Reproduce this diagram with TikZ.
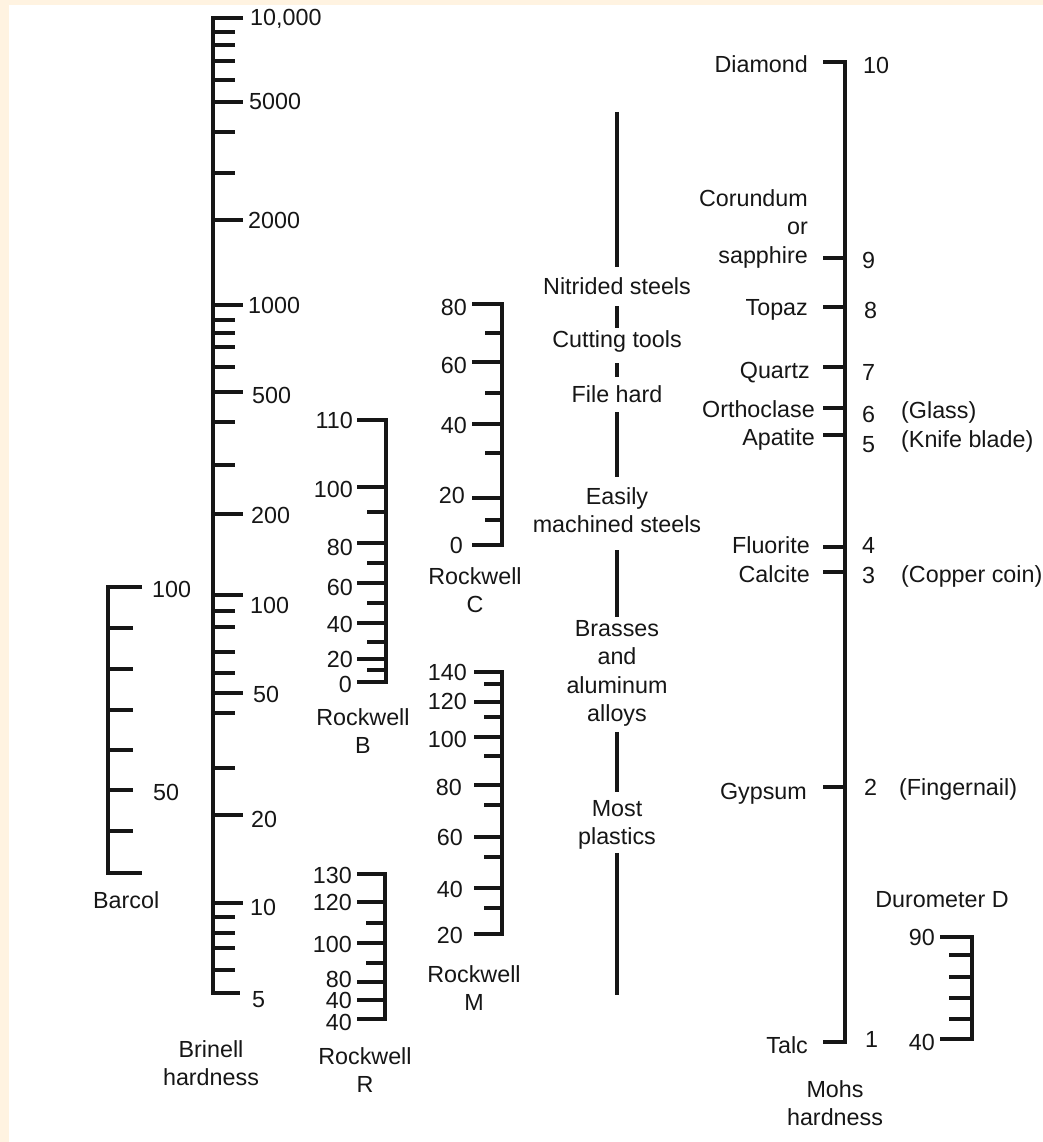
\documentclass[tikz,border=0pt]{standalone}
\usepackage{fontspec}
\setmainfont{Liberation Sans}
\definecolor{ink}{RGB}{22,22,22}
\definecolor{cream}{RGB}{255,243,225}
\begin{document}
\begin{tikzpicture}[x=1pt,y=-1pt,
  lbl/.style={font=\fontsize{23.3}{28.5}\selectfont, inner sep=0pt, text=ink},
  ml/.style={lbl, align=center, anchor=north},
  rule/.style={line width=3.2pt, draw=ink, line join=miter},
  ]
\fill[cream] (0,0) rectangle (1043,1142);
\fill[white] (9,5) rectangle (1043,1142);
\useasboundingbox (0,0) rectangle (1043,1142);

% ---------------- Brinell ----------------
\draw[rule] (243,18) -- (213,18) -- (213,993) -- (240,993);
\foreach \y in {102,220,305,392,514,595,693,815,903} \draw[rule] (213,\y) -- (243,\y);
\foreach \y in {32,45,61,80,132,173,320,333,347,367,422,465,611,627,652,673,713,768,917,933,948,970} \draw[rule] (213,\y) -- (235,\y);
\node[lbl,anchor=base west] (br10000) at (250,26) {10,000};
\node[lbl,anchor=base west] (br5000) at (249,110) {5000};
\node[lbl,anchor=base west] (br2000) at (248,228) {2000};
\node[lbl,anchor=base west] (br1000) at (248,313) {1000};
\node[lbl,anchor=base west] (br500) at (252,403) {500};
\node[lbl,anchor=base west] (br200) at (251,523) {200};
\node[lbl,anchor=base west] (br100) at (250,613) {100};
\node[lbl,anchor=base west] (br50) at (253,702) {50};
\node[lbl,anchor=base west] (br20) at (251,827) {20};
\node[lbl,anchor=base west] (br10) at (250,915) {10};
\node[lbl,anchor=base west] (br5) at (252,1007) {5};
\node[ml] (brinell) at (211,1040) {Brinell\\hardness};

% ---------------- Barcol ----------------
\draw[rule] (142,587) -- (108,587) -- (108,873) -- (142,873);
\foreach \y in {628,669,710,750,790,831} \draw[rule] (108,\y) -- (133,\y);
\node[lbl,anchor=base west] (ba100) at (152,597) {100};
\node[lbl,anchor=base west] (ba50) at (153,800) {50};
\node[lbl,anchor=base west] (barcol) at (93,908) {Barcol};

% ---------------- Rockwell B ----------------
\draw[rule] (357,420) -- (386,420) -- (386,682) -- (357,682);
\foreach \y in {487,543,583,623,659} \draw[rule] (357,\y) -- (386,\y);
\foreach \y in {512,563,603,642,670} \draw[rule] (367,\y) -- (386,\y);
\node[lbl,anchor=base east] (rb110) at (353,428) {110};
\node[lbl,anchor=base east] (rb100) at (353,497) {100};
\node[lbl,anchor=base east] (rb80) at (353,555) {80};
\node[lbl,anchor=base east] (rb60) at (353,595) {60};
\node[lbl,anchor=base east] (rb40) at (353,632) {40};
\node[lbl,anchor=base east] (rb20) at (353,667) {20};
\node[lbl,anchor=base east] (rb0) at (352,692) {0};
\node[ml] (rockb) at (363,708) {Rockwell\\B};

% ---------------- Rockwell C ----------------
\draw[rule] (472,304) -- (502,304) -- (502,545) -- (472,545);
\foreach \y in {362,424,498} \draw[rule] (472,\y) -- (502,\y);
\foreach \y in {333,393,453,520} \draw[rule] (485,\y) -- (502,\y);
\node[lbl,anchor=base east] (rc80) at (467,315) {80};
\node[lbl,anchor=base east] (rc60) at (467,373) {60};
\node[lbl,anchor=base east] (rc40) at (467,433) {40};
\node[lbl,anchor=base east] (rc20) at (465,503) {20};
\node[lbl,anchor=base east] (rc0) at (463,553) {0};
\node[ml] (rockc) at (475,567) {Rockwell\\C};

% ---------------- Rockwell M ----------------
\draw[rule] (474,672) -- (502,672) -- (502,934) -- (474,934);
\foreach \y in {702,737,785,837,888} \draw[rule] (474,\y) -- (502,\y);
\foreach \y in {684,717,756,805,857,908} \draw[rule] (484,\y) -- (502,\y);
\node[lbl,anchor=base east] (rm140) at (467,680) {140};
\node[lbl,anchor=base east] (rm120) at (467,709) {120};
\node[lbl,anchor=base east] (rm100) at (467,747) {100};
\node[lbl,anchor=base east] (rm80) at (462,795) {80};
\node[lbl,anchor=base east] (rm60) at (463,845) {60};
\node[lbl,anchor=base east] (rm40) at (463,897) {40};
\node[lbl,anchor=base east] (rm20) at (463,943) {20};
\node[ml] (rockm) at (474,965) {Rockwell\\M};

% ---------------- Rockwell R ----------------
\draw[rule] (357,874) -- (385,874) -- (385,1019) -- (357,1019);
\foreach \y in {902,943,982,1000} \draw[rule] (357,\y) -- (385,\y);
\foreach \y in {923,963} \draw[rule] (366,\y) -- (385,\y);
\node[lbl,anchor=base east] (rr130) at (352,883) {130};
\node[lbl,anchor=base east] (rr120) at (352,910) {120};
\node[lbl,anchor=base east] (rr100) at (352,952) {100};
\node[lbl,anchor=base east] (rr80) at (352,987) {80};
\node[lbl,anchor=base east] (rr40a) at (352,1008) {40};
\node[lbl,anchor=base east] (rr40b) at (352,1030) {40};
\node[ml] (rockr) at (365,1047) {Rockwell\\R};

% ---------------- Middle column ----------------
\coordinate (mtop) at (617,112);
\coordinate (mbot) at (617,995);
\node[lbl,anchor=base] (nit) at (617,294) {Nitrided steels};
\node[lbl,anchor=base] (cut) at (617,347) {Cutting tools};
\node[lbl,anchor=base] (file) at (617,402) {File hard};
\node[ml] (easy) at (617,487) {Easily\\machined steels};
\node[ml] (brass) at (617,620) {Brasses\\and\\aluminum\\alloys};
\node[ml] (most) at (617,800) {Most\\plastics};
\draw[rule] (mtop) -- ([yshift=10pt]nit.north);
\draw[rule] ([yshift=-12pt]nit.base) -- ([yshift=2pt]cut.north);
\draw[rule] ([yshift=-16pt]cut.base) -- ([yshift=8pt]file.north);
\draw[rule] ([yshift=-10pt]file.base) -- ([yshift=10pt]easy.north);
\draw[rule] ([yshift=-17pt]easy.south) -- ([yshift=3pt]brass.north);
\draw[rule] ([yshift=-5pt]brass.south) -- ([yshift=8pt]most.north);
\draw[rule] ([yshift=-3pt]most.south) -- (mbot);

% ---------------- Mohs ----------------
\draw[rule] (823,62) -- (845,62) -- (845,1042) -- (823,1042);
\foreach \y in {258,307,367,408,435,547,572,787} \draw[rule] (823,\y) -- (845,\y);
\node[lbl,anchor=base east] (diamond) at (808,73) {Diamond};
\node[lbl,align=right,anchor=north east] (corundum) at (808,189) {Corundum\\or\\sapphire};
\node[lbl,anchor=base east] (topaz) at (808,315) {Topaz};
\node[lbl,anchor=base east] (quartz) at (810,378) {Quartz};
\node[lbl,anchor=base east] (orthoclase) at (815,417) {Orthoclase};
\node[lbl,anchor=base east] (apatite) at (815,445) {Apatite};
\node[lbl,anchor=base east] (fluorite) at (810,553) {Fluorite};
\node[lbl,anchor=base east] (calcite) at (810,582) {Calcite};
\node[lbl,anchor=base east] (gypsum) at (807,799) {Gypsum};
\node[lbl,anchor=base east] (talc) at (808,1053) {Talc};
\node[lbl,anchor=base west] (mo10) at (863,74) {10};
\node[lbl,anchor=base west] (mo9) at (862,268) {9};
\node[lbl,anchor=base west] (mo8) at (864,318) {8};
\node[lbl,anchor=base west] (mo7) at (862,380) {7};
\node[lbl,anchor=base west] (mo6) at (862,422) {6};
\node[lbl,anchor=base west] (mo5) at (862,452) {5};
\node[lbl,anchor=base west] (mo4) at (862,553) {4};
\node[lbl,anchor=base west] (mo3) at (862,583) {3};
\node[lbl,anchor=base west] (mo2) at (864,795) {2};
\node[lbl,anchor=base west] (mo1) at (865,1047) {1};
\node[lbl,anchor=base west] (glass) at (901,418) {(Glass)};
\node[lbl,anchor=base west] (knife) at (901,447) {(Knife blade)};
\node[lbl,anchor=base west] (copper) at (901,582) {(Copper coin)};
\node[lbl,anchor=base west] (finger) at (899,795) {(Fingernail)};
\node[ml] (mohs) at (835,1080) {Mohs\\hardness};

% ---------------- Durometer D ----------------
\draw[rule] (940,937) -- (972,937) -- (972,1039) -- (940,1039);
\foreach \y in {955,977,998,1019} \draw[rule] (949,\y) -- (972,\y);
\node[lbl,anchor=base] (duro) at (942,907) {Durometer D};
\node[lbl,anchor=base east] (du90) at (935,945) {90};
\node[lbl,anchor=base east] (du40) at (935,1050) {40};
\end{tikzpicture}
\end{document}
